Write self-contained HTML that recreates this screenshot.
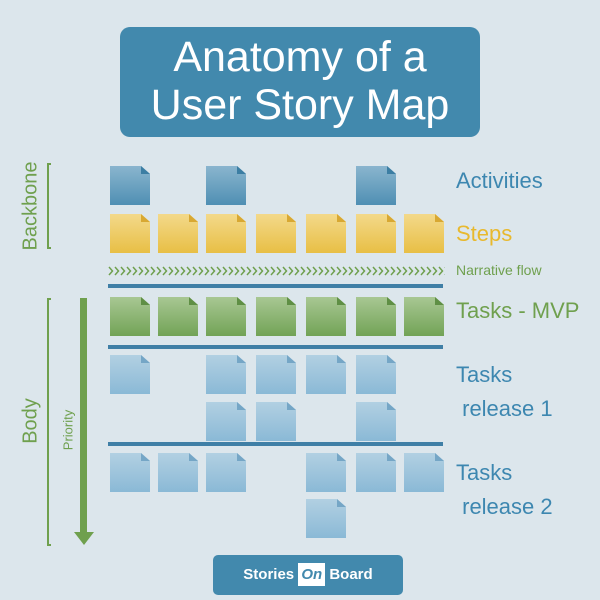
<!DOCTYPE html>
<html><head><style>
body{margin:0;width:600px;height:600px;background:#dce6ec;position:relative;overflow:hidden;font-family:"Liberation Sans",sans-serif}
.t{position:absolute;left:120px;top:27px;width:360px;height:110px;background:#4289ad;border-radius:10px;color:#fff;font-size:43px;text-align:center;line-height:48px;padding-top:6px;box-sizing:border-box}
.n{position:absolute;width:40px;height:39px;clip-path:polygon(0 0,78% 0,100% 20%,100% 100%,0 100%)}
.n::after{content:"";position:absolute;right:0;top:0;width:9px;height:8px;clip-path:polygon(0 0,100% 100%,0 100%)}
.b{background:linear-gradient(#8ab5ce,#4f8fb3)}.b::after{background:#3c7ea3}
.y{background:linear-gradient(#f3d98a,#e8bf45)}.y::after{background:#d8a832}
.g{background:linear-gradient(#a8c793,#72a356)}.g::after{background:#5f8f45}
.l{background:linear-gradient(#b2d0e2,#8ab9d6)}.l::after{background:#75a6c6}
.hl{position:absolute;left:108px;width:335px;height:4px;background:#3f7fa6}
.lab{position:absolute;font-size:22px;color:#3d87b0}
</style></head><body>
<div class="t">Anatomy of a<br>User Story Map</div>
<div class="n b" style="left:110px;top:166px"></div>
<div class="n b" style="left:206px;top:166px"></div>
<div class="n b" style="left:356px;top:166px"></div>
<div class="n y" style="left:110px;top:214px"></div><div class="n y" style="left:158px;top:214px"></div><div class="n y" style="left:206px;top:214px"></div><div class="n y" style="left:256px;top:214px"></div><div class="n y" style="left:306px;top:214px"></div><div class="n y" style="left:356px;top:214px"></div><div class="n y" style="left:404px;top:214px"></div>
<div class="n g" style="left:110px;top:297px"></div><div class="n g" style="left:158px;top:297px"></div><div class="n g" style="left:206px;top:297px"></div><div class="n g" style="left:256px;top:297px"></div><div class="n g" style="left:306px;top:297px"></div><div class="n g" style="left:356px;top:297px"></div><div class="n g" style="left:404px;top:297px"></div>
<div class="n l" style="left:110px;top:355px"></div><div class="n l" style="left:206px;top:355px"></div><div class="n l" style="left:256px;top:355px"></div><div class="n l" style="left:306px;top:355px"></div><div class="n l" style="left:356px;top:355px"></div>
<div class="n l" style="left:206px;top:402px"></div><div class="n l" style="left:256px;top:402px"></div><div class="n l" style="left:356px;top:402px"></div>
<div class="n l" style="left:110px;top:453px"></div><div class="n l" style="left:158px;top:453px"></div><div class="n l" style="left:206px;top:453px"></div><div class="n l" style="left:306px;top:453px"></div><div class="n l" style="left:356px;top:453px"></div><div class="n l" style="left:404px;top:453px"></div>
<div class="n l" style="left:306px;top:499px"></div>
<div class="hl" style="top:284px"></div><div class="hl" style="top:345px"></div><div class="hl" style="top:442px"></div>
<svg style="position:absolute;left:108px;top:265px" width="340" height="12">
<defs><pattern id="c" width="6" height="12" patternUnits="userSpaceOnUse"><polyline points="1,2 4.5,6 1,10" fill="none" stroke="#6fa04e" stroke-width="1.5"/></pattern></defs>
<rect width="337" height="12" fill="url(#c)"/></svg>
<div class="lab" style="left:456px;top:168px">Activities</div>
<div class="lab" style="left:456px;top:221px;color:#e8b92e">Steps</div>
<div class="lab" style="left:456px;top:262px;font-size:14px;color:#6fa04e">Narrative flow</div>
<div class="lab" style="left:456px;top:298px;color:#6fa04e">Tasks - MVP</div>
<div class="lab" style="left:456px;top:358px;line-height:34px">Tasks<br>&nbsp;release 1</div>
<div class="lab" style="left:456px;top:456px;line-height:34px">Tasks<br>&nbsp;release 2</div>
<div style="position:absolute;left:47px;top:163px;width:4px;height:86px;border:2px solid #6fa04e;border-right:none;box-sizing:border-box"></div>
<div style="position:absolute;left:47px;top:298px;width:4px;height:248px;border:2px solid #6fa04e;border-right:none;box-sizing:border-box"></div>
<div style="position:absolute;left:31px;top:206px;transform:translate(-50%,-50%) rotate(-90deg);font-size:20px;color:#6fa04e">Backbone</div>
<div style="position:absolute;left:31px;top:421px;transform:translate(-50%,-50%) rotate(-90deg);font-size:20px;color:#6fa04e">Body</div>
<div style="position:absolute;left:68px;top:430px;transform:translate(-50%,-50%) rotate(-90deg);font-size:13px;color:#6fa04e">Priority</div>
<div style="position:absolute;left:80px;top:298px;width:7px;height:236px;background:#6fa04e"></div>
<div style="position:absolute;left:74px;top:532px;width:0;height:0;border-left:10px solid transparent;border-right:10px solid transparent;border-top:13px solid #6fa04e"></div>
<div style="position:absolute;left:213px;top:555px;width:190px;height:40px;background:#4289ad;border-radius:5px;color:#fff;font-size:15px;font-weight:bold;line-height:40px;text-align:center">Stories <span style="background:#fff;color:#4289ad;font-style:italic;padding:3px 3px">On</span> Board</div>
</body></html>
